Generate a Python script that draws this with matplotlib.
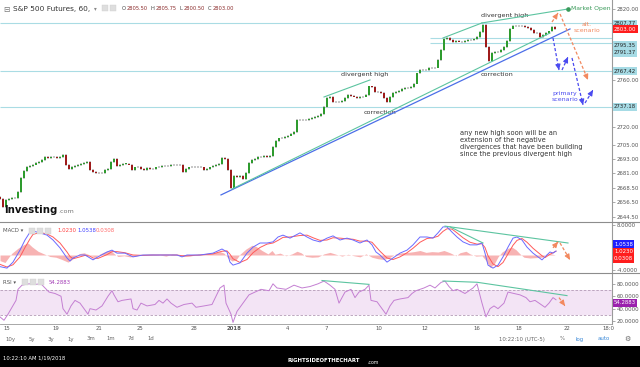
import numpy as np
import matplotlib
matplotlib.use("Agg")
import matplotlib.pyplot as plt
from matplotlib.lines import Line2D
from matplotlib.patches import Rectangle

W, H = 640, 367
PLOT_R = 612          # right edge of the plotting area (px)
BAR_STEP = 3          # one candle every 3 px of the original chart

# ---- price (hourly S&P 500 futures, resampled) -----------------------------
FIRST_OPEN = 2661.0
closes = [
    2659.4, 2652.5, 2658.5, 2659.0, 2660.0, 2660.5, 2665.0, 2677.0, 2683.0, 2686.5,
    2687.5, 2688.5, 2689.5, 2690.5, 2692.0, 2695.0, 2694.0, 2694.5, 2694.5, 2694.0,
    2695.0, 2696.5, 2688.0, 2684.5, 2686.5, 2687.5, 2688.0, 2689.0, 2689.5, 2690.5,
    2683.5, 2682.0, 2681.0, 2681.5, 2681.0, 2683.5, 2685.0, 2690.5, 2693.5, 2687.0,
    2688.0, 2689.0, 2689.0, 2688.5, 2684.0, 2686.0, 2686.5, 2684.5, 2684.0, 2685.5,
    2685.0, 2684.5, 2686.0, 2686.5, 2687.0, 2687.5, 2687.0, 2688.0, 2688.5, 2688.0,
    2688.5, 2682.5, 2685.0, 2686.0, 2686.5, 2686.0, 2686.5, 2686.0, 2684.0, 2684.5,
    2686.0, 2687.0, 2688.0, 2689.0, 2694.0, 2693.0, 2684.0, 2669.0, 2678.5, 2678.0,
    2679.0, 2676.0, 2681.0, 2690.0, 2692.5, 2693.5, 2694.5, 2694.5, 2695.5, 2695.0,
    2696.0, 2703.0, 2708.5, 2710.5, 2711.0, 2712.0, 2713.0, 2714.0, 2716.0, 2726.0,
    2726.5, 2726.0, 2726.5, 2727.0, 2727.5, 2728.5, 2729.5, 2731.0, 2737.0, 2744.5,
    2745.5, 2741.5, 2741.0, 2741.5, 2742.5, 2745.0, 2747.0, 2746.5, 2746.0, 2745.0,
    2745.5, 2746.0, 2747.5, 2754.5, 2754.0, 2749.5, 2749.5, 2749.0, 2745.0, 2741.0,
    2745.5, 2749.0, 2749.5, 2750.5, 2752.0, 2753.0, 2753.0, 2754.0, 2757.0, 2765.5,
    2768.5, 2768.0, 2768.5, 2770.5, 2770.0, 2770.5, 2777.0, 2785.0, 2794.5, 2795.5,
    2793.5, 2792.0, 2793.0, 2792.5, 2792.0, 2793.0, 2793.5, 2794.0, 2795.0, 2796.5,
    2800.5, 2806.5, 2788.0, 2776.0, 2783.0, 2783.5, 2784.0, 2785.0, 2787.5, 2793.0,
    2803.5, 2805.5, 2806.0, 2805.5, 2806.0, 2805.0, 2804.0, 2802.0, 2800.0, 2799.5,
    2796.5, 2798.0, 2800.0, 2801.0, 2805.0, 2803.0,
]
LAST = 2803.00
levels_long = [2807.77, 2767.42, 2737.18]
levels_short = [2795.35, 2791.37]
price_ticks = [2820, 2760, 2720, 2705, 2693, 2681, 2668.5, 2656.5, 2644.5]

# trend lines (x in px of original, y in price)
blue_support = ([221, 570], [2662.8, 2803.1])
green_support = ([232, 550], [2667.8, 2799.7])
div_line1 = ([324, 370], [2745.6, 2760.0])
div_line2 = ([443, 482], [2795.5, 2808.2])
open_line = ([482, 568], [2808.2, 2820.0])
alt_path = [[(552, 2809.0), (558, 2816.6)], [(560, 2815.8), (588, 2760.0)]]
primary_path = [[(553, 2795.5), (559, 2768.4)], [(562, 2768.4), (568, 2779.4)],
                [(572, 2778.6), (583, 2738.9)], [(585, 2740.5), (593, 2751.5)]]

# ---- MACD ------------------------------------------------------------------
macd_x = [0, 7, 13, 20, 25, 30, 33, 40, 47, 53, 60, 67, 70, 73, 80, 85, 90, 93, 98, 107,
          112, 117, 125, 133, 143, 153, 167, 177, 182, 187, 200, 213, 222, 227, 230,
          233, 240, 247, 253, 260, 267, 273, 278, 283, 290, 300, 307, 313, 320, 327,
          333, 340, 347, 353, 360, 367, 372, 376, 380, 387, 393, 400, 407, 413, 420,
          427, 433, 438, 443, 447, 452, 457, 463, 470, 477, 482, 485, 488, 493, 498,
          503, 508, 513, 517, 522, 527, 533, 542, 545, 550, 553, 556]
macd_blue = [-3.1, -3.5, -1.9, 1.3, 4.0, 6.1, 6.4, 5.9, 5.3, 4.0, 1.9, -0.8, -1.6, -0.8, 0.0,
             0.0, -0.8, -1.3, -0.5, 0.8, 1.3, 0.5, 0.5, -0.5, 0.0, 0.0, 0.0, 0.0, -0.5, 0.0,
             0.0, 0.5, 1.6, 0.8, -1.9, -2.7, -2.1, 0.5, 2.1, 3.2, 3.2, 3.5, 4.8, 5.3, 4.5,
             5.9, 4.8, 4.0, 3.5, 4.5, 5.1, 4.0, 4.5, 4.0, 3.2, 4.0, 2.7, 0.8, 0.0, -1.9,
             -0.8, 0.5, 1.3, 2.7, 4.8, 4.8, 4.5, 5.9, 7.5, 7.5, 6.1, 4.8, 3.5, 2.7, 2.7,
             3.2, 0.5, -2.7, -3.5, -2.7, -0.5, 2.1, 4.5, 4.8, 4.0, 2.1, 0.5, -1.3, -0.5, 0.8,
             0.5, 1.05]
macd_red = [-2.5, -3.2, -2.6, -0.5, 2.0, 4.3, 5.5, 6.0, 5.6, 4.8, 3.2, 0.8, -0.4, -1.0, -0.5,
            -0.1, -0.3, -0.8, -0.9, 0.1, 0.9, 0.9, 0.6, 0.0, -0.1, 0.0, 0.0, 0.0, -0.2, -0.2,
            0.0, 0.3, 1.0, 1.1, 0.2, -1.0, -2.0, -1.2, 0.6, 2.0, 2.9, 3.2, 3.9, 4.7, 4.8,
            5.2, 5.3, 4.6, 3.9, 4.0, 4.6, 4.5, 4.3, 4.2, 3.7, 3.7, 3.4, 2.2, 1.0, -0.8,
            -1.2, -0.5, 0.6, 1.8, 3.4, 4.4, 4.6, 5.0, 6.3, 7.0, 6.9, 5.9, 4.6, 3.4, 2.9,
            3.0, 2.0, -0.2, -2.4, -3.1, -2.0, 0.3, 2.6, 3.9, 4.4, 3.4, 1.8, -0.2, -0.7, 0.2,
            0.6, 1.02]
hist_x = [0, 5, 9, 12, 18, 24, 28, 32, 38, 44, 50, 56, 62, 68, 72, 76, 80, 84, 88, 92,
          96, 100, 106, 110, 114, 118, 124, 130, 136, 142, 150, 158, 166, 172, 178,
          184, 190, 198, 206, 214, 220, 224, 228, 232, 236, 240, 246, 252, 256, 262,
          268, 272, 275, 280, 286, 292, 297, 301, 306, 312, 318, 324, 330, 336, 342,
          348, 354, 360, 366, 372, 378, 384, 390, 396, 402, 408, 414, 420, 426, 432,
          438, 444, 450, 456, 460, 466, 470, 476, 482, 486, 490, 494, 498, 502, 508,
          512, 516, 520, 524, 530, 536, 542, 546, 550, 555]
hist_v = [-1.5, -2.0, -0.5, 0.5, 1.8, 2.8, 3.2, 2.2, 1.0, 0.3, -0.4, -0.6, -1.2, -1.9, -1.2,
          -0.2, 0.4, 0.6, 0.2, -0.3, -0.5, 0.3, 1.0, 1.3, 0.4, -0.4, -0.2, -0.5, -0.3, 0.1,
          0.2, 0.1, -0.3, 0.2, 0.1, -0.4, -0.3, 0.2, 0.3, 0.6, 0.9, 0.5, -0.8, -1.6, -1.3,
          0.2, 1.6, 2.6, 2.3, 1.2, 0.3, 1.2, 0.2, 0.5, -0.2, 0.3, 1.0, 0.6, -0.4, -0.6,
          -0.5, 0.3, 0.7, 0.2, -0.3, 0.2, -0.2, -0.5, 0.3, -0.6, -1.0, -1.2, -0.6, 0.3, 0.6,
          0.7, 0.9, 1.2, 0.7, 0.9, 0.8, 1.2, 0.6, -0.2, 0.6, 1.0, 0.3, -0.3, -0.2, -1.5,
          -3.3, -2.5, -0.5, 0.8, 1.8, 2.1, 1.4, 0.3, -0.6, -0.8, -0.7, -0.6, 0.2, 0.4, 0.03]
macd_div1 = ([445, 568], [7.7, 3.2])
macd_div2 = ([450, 483], [7.5, 3.2])
macd_alt = [[(553, 1.9), (558, 3.5)], [(560, 3.2), (570, -1.3)]]

# ---- RSI -------------------------------------------------------------------
rsi_x = [0, 4, 8, 12, 16, 18, 22, 29, 35, 41, 45, 49, 55, 61, 63, 67, 71, 75, 80, 84,
         88, 90, 96, 102, 108, 112, 114, 118, 122, 131, 133, 137, 141, 147, 155, 159,
         163, 167, 171, 177, 184, 192, 196, 204, 212, 220, 224, 226, 231, 233, 237,
         243, 249, 255, 261, 269, 273, 277, 286, 294, 302, 310, 318, 324, 330, 335,
         339, 345, 351, 355, 359, 365, 369, 371, 377, 381, 386, 390, 394, 400, 408,
         412, 416, 424, 430, 435, 441, 445, 449, 453, 457, 465, 473, 477, 482, 486,
         490, 494, 498, 504, 508, 514, 520, 526, 530, 535, 539, 545, 549, 553, 556]
rsi_v = [26.7, 21.3, 31.1, 42.2, 53.3, 71.1, 77.8, 80.0, 79.1, 80.0, 73.3, 66.7, 64.4, 60.0,
         40.0, 31.1, 44.4, 53.3, 48.9, 40.0, 31.1, 40.0, 37.8, 44.4, 60.0, 68.9, 62.2, 51.1,
         53.3, 55.6, 40.0, 37.8, 48.9, 44.4, 46.7, 53.3, 48.9, 55.6, 48.9, 42.2, 46.7, 48.9,
         42.2, 44.4, 46.7, 73.3, 77.8, 48.9, 31.1, 17.8, 35.6, 48.9, 62.2, 66.7, 71.1, 68.9,
         80.0, 73.3, 71.1, 77.8, 73.3, 75.6, 80.0, 84.4, 77.8, 71.1, 48.9, 66.7, 71.1, 57.8,
         66.7, 71.1, 77.8, 53.3, 51.1, 42.2, 31.1, 44.4, 53.3, 55.6, 57.8, 64.4, 68.9, 73.3,
         77.8, 73.3, 82.2, 84.4, 75.6, 68.9, 71.1, 64.4, 73.3, 80.0, 48.9, 26.7, 40.0, 44.4,
         40.0, 48.9, 66.7, 64.4, 62.2, 57.8, 51.1, 53.3, 48.9, 42.2, 48.9, 57.8, 54.3]
rsi_div1 = ([322, 369], [85.3, 79.1])
rsi_div2 = ([443, 477, 567], [84.5, 82.5, 61.0])
rsi_alt = [(559, 57.8), (565, 44.4)]

date_pos = [6.5, 56, 99, 140, 194, 234, 287, 326, 379, 425, 477, 519, 567, 608]
date_lbl = ["15", "19", "21", "25", "28", "2018", "4", "7", "10", "12", "16", "18", "22", "18:0"]
range_lbl = ["10y", "5y", "3y", "1y", "3m", "1m", "7d", "1d"]
range_pos = [10, 32, 51, 71, 91, 111, 131, 151]

GREEN_LN = "#5cc4a0"
BLUE_ARR = "#4a4af0"
ORANGE = "#f2895f"
LEVEL = "#aadce4"
FS = 3.9


def fx(px):
    return px / W


def fy(py):
    return 1 - py / H


def dashed_arrow(ax, p0, p1, color):
    ax.plot([p0[0], p1[0]], [p0[1], p1[1]], ls=(0, (2.5, 1.6)), color=color, lw=0.9,
            zorder=6, clip_on=False)
    tail = (p0[0] + 0.93 * (p1[0] - p0[0]), p0[1] + 0.93 * (p1[1] - p0[1]))
    ax.annotate("", xy=p1, xytext=tail, zorder=7, annotation_clip=False,
                arrowprops=dict(arrowstyle="-|>,head_length=0.32,head_width=0.15",
                                color=color, lw=0.8, shrinkA=0, shrinkB=0))


fig = plt.figure(figsize=(W / 100, H / 100), dpi=100)
fig.patch.set_facecolor("white")

ax_p = fig.add_axes([0, fy(222), fx(PLOT_R), 222 / H])
ax_m = fig.add_axes([0, fy(273), fx(PLOT_R), 51 / H])
ax_r = fig.add_axes([0, fy(324), fx(PLOT_R), 51 / H])
for ax in (ax_p, ax_m, ax_r):
    ax.set_xlim(0, PLOT_R)
    ax.set_xticks([])
    for s in ("top", "left", "bottom"):
        ax.spines[s].set_visible(False)
    ax.spines["right"].set_color("#9a9a9a")
    ax.spines["right"].set_linewidth(0.8)
    ax.yaxis.tick_right()
    ax.tick_params(axis="y", length=2, width=0.5, color="#888", labelsize=FS,
                   labelcolor="#555", pad=1.2)
    ax.patch.set_alpha(0)

# ---- price panel -------------------------------------------------------------
c = np.array(closes)
bx = np.arange(len(c)) * BAR_STEP
o = np.r_[FIRST_OPEN, c[:-1]]
up = c >= o
ax_p.vlines(bx, np.minimum(o, c) - 0.8, np.maximum(o, c) + 0.8, color="#bdbdbd", lw=1.2, zorder=2)
body = np.where(np.abs(c - o) < 0.4, np.where(up, 0.4, -0.4), c - o)
ax_p.bar(bx, body, bottom=o, width=1.9, color=np.where(up, "#2e9b2e", "#9e1b1b"), lw=0, zorder=3)

for lv in levels_long:
    ax_p.hlines(lv, 0, PLOT_R, color=LEVEL, lw=0.8, zorder=1)
for lv in levels_short:
    ax_p.hlines(lv, 430, PLOT_R, color=LEVEL, lw=0.8, zorder=1)

ax_p.plot(*blue_support, color="#4b6ee8", lw=0.9, zorder=4)
ax_p.plot(*green_support, color=GREEN_LN, lw=0.8, zorder=4)
for ln in (div_line1, div_line2, open_line):
    ax_p.plot(*ln, color=GREEN_LN, lw=0.8, zorder=4)
ax_p.plot(open_line[0][1], open_line[1][1], "o", ms=2.3, color="#3a9a5a", zorder=5)
ax_p.text(571, open_line[1][1], "Market Open", fontsize=4.4, color="#3a9a5a", va="center",
          clip_on=False)
for seg in alt_path:
    dashed_arrow(ax_p, seg[0], seg[1], ORANGE)
for seg in primary_path:
    dashed_arrow(ax_p, seg[0], seg[1], BLUE_ARR)

ax_p.set_ylim(2639.9, 2827.6)
ax_p.set_yticks(price_ticks)
ax_p.set_yticklabels([f"{t:.2f}" for t in price_ticks])

tk = dict(fontsize=4.6, color="#333", ha="center", va="center")
ax_p.text(365, 2764.2, "divergent high", **tk)
ax_p.text(380, 2732.9, "correction", **tk)
ax_p.text(505, 2814.9, "divergent high", **tk)
ax_p.text(497, 2764.2, "correction", **tk)
ax_p.text(587, 2804.6, "alt.\nscenario", fontsize=4.5, color=ORANGE, ha="center", va="center",
          linespacing=1.2)
ax_p.text(565, 2746.0, "primary\nscenario", fontsize=4.5, color=BLUE_ARR, ha="center",
          va="center", linespacing=1.2)
ax_p.text(460, 2717.5, "any new high soon will be an\nextension of the negative\n"
          "divergences that have been building\nsince the previous divergent high",
          fontsize=4.8, color="#333", ha="left", va="top", linespacing=1.2)

# Investing.com logo
fig.text(fx(4), fy(210), "Investing", fontsize=7.3, fontweight="bold", color="#111",
         va="center", ha="left")
fig.text(fx(58), fy(211), ".com", fontsize=4.6, color="#777", va="center", ha="left")


def axis_box(ax, value, text, fc, tc="white", dy=0.0):
    ypx = ax.transData.transform((0, value))[1] / H - dy / H
    fig.text(fx(614), ypx, text, fontsize=FS, color=tc, ha="left", va="center",
             bbox=dict(boxstyle="square,pad=0.25", fc=fc, ec="none"), zorder=10)


axis_box(ax_p, levels_long[0], "2807.77", "#a6dbe5", "#222")
axis_box(ax_p, LAST, "2803.00", "#ff1d1d")
axis_box(ax_p, levels_short[0], "2795.35", "#a6dbe5", "#222", dy=7)
axis_box(ax_p, levels_short[1], "2791.37", "#a6dbe5", "#222", dy=10)
axis_box(ax_p, levels_long[1], "2767.42", "#a6dbe5", "#222")
axis_box(ax_p, levels_long[2], "2737.18", "#a6dbe5", "#222")

# ---- MACD panel --------------------------------------------------------------
ax_m.fill_between(hist_x, 0, hist_v, color="#f6a0a0", alpha=0.8, lw=0, interpolate=True)
ax_m.plot(macd_x, macd_red, color="#ff5a5a", lw=0.7)
ax_m.plot(macd_x, macd_blue, color="#6a6aff", lw=0.7)
ax_m.plot(*macd_div1, color=GREEN_LN, lw=0.8)
ax_m.plot(*macd_div2, color=GREEN_LN, lw=0.8)
for seg in macd_alt:
    dashed_arrow(ax_m, seg[0], seg[1], ORANGE)
ax_m.set_ylim(-4.8, 8.8)
ax_m.set_yticks([8, -4])
ax_m.set_yticklabels(["8.0000", "-4.0000"])
axis_box(ax_m, 1.0538, "1.0538", "#1f1fff", dy=-7)
axis_box(ax_m, 1.0230, "1.0230", "#ff1d1d", dy=0.5)
axis_box(ax_m, 0.0308, "0.0308", "#ff1d1d", dy=4)

fig.text(fx(3), fy(231), "MACD \u25be", fontsize=FS, color="#555", va="center")
fig.text(fx(57), fy(231), "1.0230", fontsize=FS, color="#ff4040", va="center")
fig.text(fx(77), fy(231), "1.0538", fontsize=FS, color="#4040ff", va="center")
fig.text(fx(96), fy(231), "0.0308", fontsize=FS, color="#ff6a6a", va="center")

# ---- RSI panel ---------------------------------------------------------------
ax_r.axhspan(30, 70, color="#f3e4f5", lw=0, zorder=0)
for lv in (70, 30):
    ax_r.axhline(lv, color="#b39ab6", lw=0.6, ls=(0, (3, 2)), zorder=1)
ax_r.plot(rsi_x, rsi_v, color="#c47fd2", lw=0.7, zorder=3)
ax_r.plot(*rsi_div1, color=GREEN_LN, lw=0.8, zorder=4)
ax_r.plot(*rsi_div2, color=GREEN_LN, lw=0.8, zorder=4)
dashed_arrow(ax_r, rsi_alt[0], rsi_alt[1], ORANGE)
ax_r.set_ylim(15.3, 97.4)
ax_r.set_yticks([80, 60, 40, 20])
ax_r.set_yticklabels(["80.0000", "60.0000", "40.0000", "20.0000"])
axis_box(ax_r, 54.2883, "54.2883", "#9a21ad", dy=3)
fig.text(fx(3), fy(282), "RSI \u25be", fontsize=FS, color="#555", va="center")
fig.text(fx(49), fy(282), "54.2883", fontsize=FS, color="#a23ab5", va="center")

# small indicator icons
for x0, y0 in [(102, 5), (110, 5), (29, 228), (37, 228), (45, 228), (22, 279), (30, 279), (38, 279)]:
    fig.add_artist(Rectangle((fx(x0), fy(y0 + 6)), 6 / W, 6 / H, transform=fig.transFigure,
                             fc="#dedede", ec="#cfcfcf", lw=0.3))

# separators
for yy in (222, 273):
    fig.add_artist(Line2D([0, 1], [fy(yy)] * 2, color="#8d8d8d", lw=0.8))
fig.add_artist(Line2D([0, fx(PLOT_R)], [fy(324)] * 2, color="#9a9a9a", lw=0.6))

# ---- header ----------------------------------------------------------------
fig.text(fx(3), fy(9), "\u229f", fontsize=5.5, color="#777", va="center")
fig.text(fx(13), fy(9), "S&P 500 Futures, 60,", fontsize=5.3, color="#333", va="center")
fig.text(fx(94), fy(9), "\u25be", fontsize=4, color="#888", va="center")
ohlc = [("O", "2805.50"), ("H", "2805.75"), ("L", "2800.50"), ("C", "2803.00")]
for i, (k, v) in enumerate(ohlc):
    x0 = 122 + i * 28.5
    fig.text(fx(x0), fy(9), k, fontsize=3.7, color="#444", va="center")
    fig.text(fx(x0 + 5), fy(9), v, fontsize=3.7, color="#8b2b2b", va="center")

# ---- date axis / toolbar / footer -------------------------------------------
for p, lbl in zip(date_pos, date_lbl):
    fig.text(fx(p), fy(329), lbl, fontsize=FS, color="#555", ha="center", va="center",
             fontweight="bold" if lbl == "2018" else "normal")
for p, lbl in zip(range_pos, range_lbl):
    fig.text(fx(p), fy(339), lbl, fontsize=FS, color="#666", ha="center", va="center")
fig.text(fx(522), fy(339), "10:22:10 (UTC-5)", fontsize=FS, color="#666", ha="center", va="center")
fig.text(fx(562), fy(339), "%", fontsize=FS, color="#666", ha="center", va="center")
fig.text(fx(580), fy(339), "log", fontsize=FS, color="#3d8bd9", ha="center", va="center")
fig.text(fx(604), fy(339), "auto", fontsize=FS, color="#3d8bd9", ha="center", va="center")
fig.text(fx(627), fy(339), "\u2699", fontsize=5, color="#666", ha="center", va="center")

fig.add_artist(Rectangle((0, 0), 1, (H - 346) / H, transform=fig.transFigure, fc="black", ec="none"))
fig.text(fx(3), fy(358), "10:22:10 AM 1/19/2018", fontsize=3.8, color="white", va="center")
fig.text(fx(288), fy(361), "RIGHTSIDEOFTHECHART", fontsize=3.9, color="white", fontweight="bold",
         ha="left", va="center")
fig.text(fx(368), fy(362), ".com", fontsize=3.3, color="white", ha="left", va="center")

fig.savefig("out.png", dpi=100, facecolor="white")
